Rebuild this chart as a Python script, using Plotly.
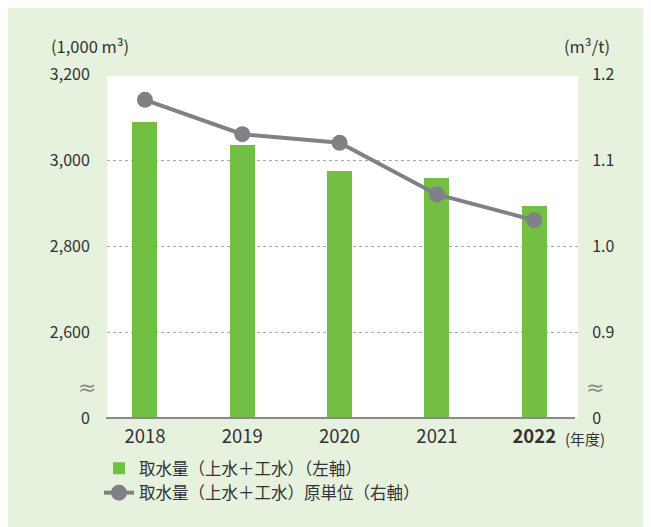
import plotly.graph_objects as go

years = ["2018", "2019", "2020", "2021", "2022"]
intake = [3088, 3035, 2974, 2958, 2893]          # 1,000 m3 (left axis)
intensity = [1.17, 1.13, 1.12, 1.06, 1.03]       # m3/t (right axis)
left_tickvals = [2400, 2600, 2800, 3000, 3200]
left_ticktext = ["0", "2,600", "2,800", "3,000", "3,200"]
right_tickvals = [0.8, 0.9, 1.0, 1.1, 1.2]
right_ticktext = ["0", "0.9", "1.0", "1.1", "1.2"]
bar_name = "取水量（上水＋工水）（左軸）"
line_name = "取水量（上水＋工水）原単位（右軸）"

FONT = "Noto Sans CJK JP, Noto Sans, sans-serif"
TXT = "#333333"
GREEN_BG = "#e6f1de"

OFF = 8  # default page body margin
VW, VH = 651, 527
W, H = VW - OFF, VH - OFF
L, R, T, B = 107 - OFF, 73, 74 - OFF, 109
pw, ph = W - L - R, H - T - B

def px_x(x):
    return (x - OFF - L) / pw

def px_y(y):
    return (H - B - (y - OFF)) / ph

xs = list(range(len(years)))
ticktext_x = [f"<b>{y}</b>" if y == "2022" else y for y in years]

fig = go.Figure()
fig.add_trace(go.Bar(
    x=xs, y=intake, name=bar_name, width=0.257,
    marker=dict(color="#72bf44", line=dict(width=0)),
    yaxis="y",
))
fig.add_trace(go.Scatter(
    x=xs, y=intensity, name=line_name, mode="lines+markers",
    line=dict(color="#808086", width=4),
    marker=dict(color="#808086", size=16),
    yaxis="y2",
))

shapes = [
    dict(type="rect", xref="paper", yref="paper",
         x0=px_x(0), x1=px_x(VW + 20), y0=px_y(VH + 20), y1=px_y(0),
         fillcolor=GREEN_BG, line=dict(width=0), layer="below"),
    dict(type="rect", xref="paper", yref="paper",
         x0=0, x1=1, y0=0, y1=px_y(76),
         fillcolor="white", line=dict(width=0), layer="below"),
    dict(type="line", xref="paper", yref="paper",
         x0=px_x(106), x1=px_x(575), y0=0, y1=0,
         line=dict(color="#8a8a8a", width=2)),
]

annotations = [
    dict(text="(1,000 m³)", xref="paper", yref="paper", x=px_x(49), y=px_y(46),
         xanchor="left", yanchor="middle", showarrow=False,
         font=dict(size=16.5, color=TXT, family=FONT)),
    dict(text="(m³/t)", xref="paper", yref="paper", x=px_x(612), y=px_y(46),
         xanchor="right", yanchor="middle", showarrow=False,
         font=dict(size=16.5, color=TXT, family=FONT)),
    dict(text="(年度)", xref="paper", yref="paper", x=px_x(563), y=px_y(438),
         xanchor="left", yanchor="middle", showarrow=False,
         font=dict(size=15, color=TXT, family=FONT)),
    dict(text="≈", xref="paper", yref="paper", x=px_x(87), y=px_y(387),
         xanchor="center", yanchor="middle", showarrow=False,
         font=dict(size=22, color="#8a8a8a", family="DejaVu Sans")),
    dict(text="≈", xref="paper", yref="paper", x=px_x(595), y=px_y(387),
         xanchor="center", yanchor="middle", showarrow=False,
         font=dict(size=22, color="#8a8a8a", family="DejaVu Sans")),
]

fig.update_layout(
    width=W, height=H,
    margin=dict(l=L, r=R, t=T, b=B, pad=0),
    paper_bgcolor="white",
    plot_bgcolor="rgba(0,0,0,0)",
    font=dict(family=FONT, color=TXT, size=16),
    showlegend=True,
    legend=dict(
        x=px_x(99), y=px_y(451), xanchor="left", yanchor="top",
        orientation="v", bgcolor="rgba(0,0,0,0)",
        font=dict(size=16.5, color=TXT, family=FONT),
        tracegroupgap=0, itemwidth=30,
    ),
    xaxis=dict(
        range=[-0.39, 4.45], tickvals=xs, ticktext=ticktext_x,
        showgrid=False, zeroline=False, showline=False,
        ticks="outside", ticklen=2, tickcolor="rgba(0,0,0,0)",
        tickfont=dict(size=18.5, color=TXT, family=FONT),
        fixedrange=True,
    ),
    yaxis=dict(
        range=[2400, 3200], tickvals=left_tickvals, ticktext=left_ticktext,
        showgrid=True, gridcolor="#ababab", griddash="dot", gridwidth=1,
        zeroline=False, showline=False,
        ticks="outside", ticklen=13, tickcolor="rgba(0,0,0,0)",
        tickfont=dict(size=16, color=TXT, family=FONT),
    ),
    yaxis2=dict(
        range=[0.8, 1.2], tickvals=right_tickvals, ticktext=right_ticktext,
        overlaying="y", side="right", showgrid=False, zeroline=False,
        showline=False, ticks="outside", ticklen=10,
        tickcolor="rgba(0,0,0,0)",
        tickfont=dict(size=16, color=TXT, family=FONT),
    ),
    shapes=shapes,
    annotations=annotations,
    bargap=0,
)

fig.write_html("out.html")
